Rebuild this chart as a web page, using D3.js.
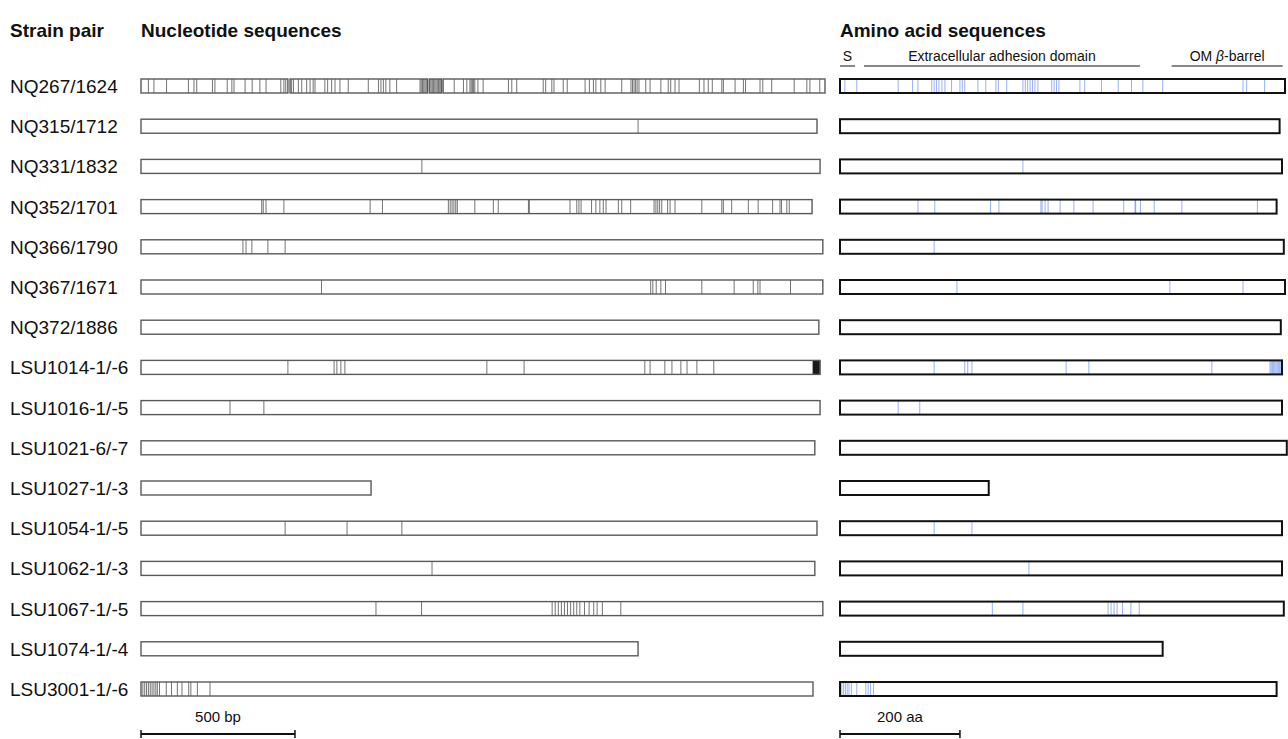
<!DOCTYPE html>
<html><head><meta charset="utf-8">
<script src="https://cdn.jsdelivr.net/npm/d3@7"></script>
<style>
body{margin:0;background:#fff;}
text{font-family:"Liberation Sans",Arial,Helvetica,sans-serif;fill:#111;}
</style></head>
<body><svg id="chart" width="1288" height="739"></svg>
<script>
const strains = ["NQ267/1624","NQ315/1712","NQ331/1832","NQ352/1701","NQ366/1790","NQ367/1671","NQ372/1886",
  "LSU1014-1/-6","LSU1016-1/-5","LSU1021-6/-7","LSU1027-1/-3","LSU1054-1/-5","LSU1062-1/-3","LSU1067-1/-5","LSU1074-1/-4","LSU3001-1/-6"];
const ntLengths = [2221,2195,2205,2179,2214,2214,2201,2205,2205,2188,747,2195,2188,2214,1614,2182];
const aaLengths = [742,733,737,728,740,742,735,737,737,745,248,737,737,740,538,728];
const ntGaps = [[[477,484],[930,936],[976,981]],[],[],[],[],[],[],[],[],[],[],[],[],[],[],[]];
const ntMutations = [
  [24,42,83,154,172,181,232,240,280,295,302,338,361,386,406,454,464,470,489,495,511,522,538,549,559,565,597,606,619,630,646,673,738,771,779,787,795,808,830,906,910,914,918,922,926,938,942,946,950,954,958,962,966,970,974,1017,1047,1058,1068,1072,1076,1080,1084,1094,1111,1193,1204,1220,1306,1314,1334,1341,1371,1384,1442,1456,1469,1477,1493,1507,1561,1591,1596,1601,1606,1611,1617,1639,1653,1688,1712,1720,1734,1747,1813,1828,1842,1855,1886,1891,1929,1956,1963,2010,2019,2048,2121,2162,2172,2204],
  [1614],
  [912],
  [392,397,406,464,744,784,998,1004,1010,1016,1022,1027,1084,1144,1160,1258,1261,1393,1415,1422,1429,1463,1477,1490,1501,1510,1550,1561,1590,1666,1672,1678,1684,1691,1710,1718,1734,1821,1886,1891,1918,1972,2004,2051,2075,2080,2097,2105],
  [331,341,360,412,468],
  [586,1655,1662,1673,1688,1703,1821,1926,1988,2003,2010,2109],
  [],
  [477,627,636,649,662,1123,1244,1636,1653,1701,1724,1753,1773,1805,1860,2182,2183,2184,2185,2186,2187,2188,2189,2190,2191,2192,2193,2194,2195,2196,2197,2198,2199,2200,2201,2202,2203,2204],
  [289,399],
  [],
  [],
  [468,669,847],
  [945],
  [763,911,1335,1345,1355,1365,1375,1385,1395,1405,1415,1425,1440,1455,1470,1481,1498,1558],
  [],
  [6,12,18,24,30,36,42,48,53,60,82,99,118,133,155,162,183,224]
];
const aaMutations = [
  [8,28,97,121,130,153,157,161,165,170,175,186,200,204,208,230,243,260,264,278,305,309,313,317,321,325,330,353,357,361,365,400,408,436,464,486,505,538,672,678,708],
  [],
  [305],
  [130,158,251,265,335,337,342,347,367,390,422,473,492,493,501,524,570,696],
  [157],
  [195,550,672],
  [],
  [157,208,213,220,377,415,620,717,719,721,723,725,727,729,731,733,735],
  [97,133],
  [],
  [],
  [157,220],
  [315],
  [254,305,447,452,457,462,471,485,499],
  [],
  [3,6,9,12,15,19,28,43,47,51,56]
];
const domainNames = ["S","Extracellular adhesion domain","OM β-barrel"];
const domainStarts = [0,40,553];
const domainEnds = [25,500,738];
const scaleBarNt = 500, scaleBarAa = 200;
const scaleBarNtLabel = "500 bp", scaleBarAaLabel = "200 aa";

const svg = d3.select("#chart");
const y = d3.scalePoint().domain(strains).range([86, 689]);
const xNt = d3.scaleLinear().domain([0, 2221]).range([141, 825]);
const xAa = d3.scaleLinear().domain([0, 742]).range([840, 1285]);
const barH = 14;

// headers
[["Strain pair",10],["Nucleotide sequences",141],["Amino acid sequences",840]].forEach(([t,x])=>
  svg.append("text").attr("x",x).attr("y",37).attr("font-size",19).attr("font-weight","bold").text(t));

// domains
domainNames.forEach((n,i)=>{
  const x0 = xAa(domainStarts[i]), x1 = xAa(domainEnds[i]);
  svg.append("line").attr("x1",x0).attr("x2",x1).attr("y1",66).attr("y2",66).attr("stroke","#888").attr("stroke-width",2);
  const t = svg.append("text").attr("x",(x0+x1)/2).attr("y",61).attr("text-anchor","middle").attr("font-size",14);
  if (n.includes("β")) {
    const parts = n.split("β");
    t.append("tspan").text(parts[0]);
    t.append("tspan").attr("font-style","italic").text("β");
    t.append("tspan").text(parts[1]);
  } else t.text(n);
});

strains.forEach((s,i)=>{
  const cy = y(s);
  svg.append("text").attr("x",10).attr("y",cy+7).attr("font-size",19).text(s);
  // nucleotide
  const gNt = svg.append("g");
  gNt.selectAll("line").data(ntMutations[i]).join("line")
    .attr("x1",d=>xNt(d)).attr("x2",d=>xNt(d)).attr("y1",cy-barH/2).attr("y2",cy+barH/2)
    .attr("stroke","#000").attr("stroke-opacity",0.55).attr("stroke-width",1);
  const segs = [];
  let start = 0;
  ntGaps[i].forEach(g=>{ segs.push([start,g[0]]); start = g[1]; });
  segs.push([start, ntLengths[i]]);
  gNt.selectAll("rect").data(segs).join("rect")
    .attr("x",d=>xNt(d[0])).attr("width",d=>xNt(d[1])-xNt(d[0]))
    .attr("y",cy-barH/2).attr("height",barH)
    .attr("fill","none").attr("stroke","#5a5a5a").attr("stroke-width",1.4);
  // amino acid
  const gAa = svg.append("g");
  gAa.selectAll("line").data(aaMutations[i]).join("line")
    .attr("x1",d=>xAa(d)).attr("x2",d=>xAa(d)).attr("y1",cy-barH/2).attr("y2",cy+barH/2)
    .attr("stroke","#3366f0").attr("stroke-opacity",0.5).attr("stroke-width",1);
  gAa.append("rect").attr("x",xAa(0)).attr("width",xAa(aaLengths[i])-xAa(0))
    .attr("y",cy-barH/2).attr("height",barH)
    .attr("fill","none").attr("stroke","#111").attr("stroke-width",2);
});

// scale bars
function scaleBar(x, len, label){
  const x0 = x(0), x1 = x(len), yy = 734;
  svg.append("line").attr("x1",x0).attr("x2",x1).attr("y1",yy).attr("y2",yy).attr("stroke","#111").attr("stroke-width",2);
  [x0,x1].forEach(xx=>svg.append("line").attr("x1",xx).attr("x2",xx).attr("y1",yy-4).attr("y2",yy+4).attr("stroke","#111").attr("stroke-width",1.5));
  svg.append("text").attr("x",(x0+x1)/2).attr("y",722).attr("text-anchor","middle").attr("font-size",15).text(label);
}
scaleBar(xNt, scaleBarNt, scaleBarNtLabel);
scaleBar(xAa, scaleBarAa, scaleBarAaLabel);
</script></body></html>
